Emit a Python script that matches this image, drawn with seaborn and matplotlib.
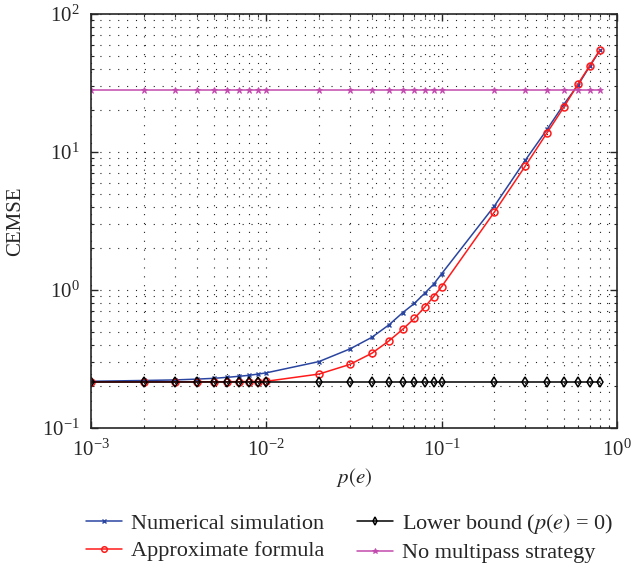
import numpy as np
import pandas as pd
import matplotlib
matplotlib.use("Agg")
import matplotlib.pyplot as plt
import seaborn as sns
from matplotlib.ticker import LogLocator, NullFormatter

# ---- data ----
p_e = [0.001, 0.002, 0.003, 0.004, 0.005, 0.006, 0.007, 0.008, 0.009, 0.01,
       0.02, 0.03, 0.04, 0.05, 0.06, 0.07, 0.08, 0.09, 0.1,
       0.2, 0.3, 0.4, 0.5, 0.6, 0.7, 0.8]
numerical = [0.218, 0.221, 0.223, 0.226, 0.229, 0.233, 0.237, 0.241, 0.246, 0.251,
             0.303, 0.374, 0.454, 0.558, 0.685, 0.80, 0.946, 1.10, 1.31,
             4.06, 8.7, 14.6, 22.3, 30.5, 41.8, 54.5]
approx = [0.2155, 0.2157, 0.2159, 0.216, 0.2162, 0.2164, 0.2166, 0.2168, 0.217, 0.218,
          0.246, 0.289, 0.348, 0.427, 0.519, 0.623, 0.75, 0.895, 1.057,
          3.67, 7.9, 13.8, 21.3, 31.1, 42.2, 54.8]
lower_bound = [0.2165] * len(p_e)
no_multipass = [28.1] * len(p_e)

labels = ["Numerical simulation", "Approximate formula",
          "Lower bound ($p(e)$ = 0)", "No multipass strategy"]

sns.set_style("ticks")
plt.rcParams["font.family"] = ["Liberation Serif", "DejaVu Serif"]
plt.rcParams["mathtext.fontset"] = "stix"

fig = plt.figure(figsize=(6.34, 5.69), dpi=100)
ax = fig.add_axes([0.1435, 0.2478, 0.8295, 0.7276])

blue, red, mag = "#2a45a0", "#ff1a1a", "#c24aae"
sns.lineplot(x=p_e, y=numerical, ax=ax, color=blue, lw=1.1, marker="x",
             markersize=3.5, markeredgecolor=blue, markeredgewidth=1.0,
             label=labels[0])
sns.lineplot(x=p_e, y=approx, ax=ax, color=red, lw=1.1, marker="o",
             markersize=5, markerfacecolor="none", markeredgecolor=red,
             markeredgewidth=1.1, label=labels[1])
sns.lineplot(x=p_e, y=lower_bound, ax=ax, color="black", lw=1.1, marker="d",
             markersize=5, markerfacecolor="none", markeredgecolor="black",
             markeredgewidth=1.1, label=labels[2])
sns.lineplot(x=p_e, y=no_multipass, ax=ax, color=mag, lw=1.1, marker="*",
             markersize=5, markerfacecolor=mag, markeredgecolor=mag,
             markeredgewidth=0.6, label=labels[3])

ax.set_xscale("log")
ax.set_yscale("log")
ax.set_xlim(1e-3, 1)
ax.set_ylim(0.1, 100)

ax.xaxis.set_major_locator(LogLocator(base=10, numticks=10))
ax.yaxis.set_major_locator(LogLocator(base=10, numticks=10))
ax.xaxis.set_minor_locator(LogLocator(base=10, subs=np.arange(2, 10), numticks=20))
ax.yaxis.set_minor_locator(LogLocator(base=10, subs=np.arange(2, 10), numticks=20))
ax.xaxis.set_minor_formatter(NullFormatter())
ax.yaxis.set_minor_formatter(NullFormatter())

ax.grid(True, which="both", color="#222222", linestyle=(0, (1, 7)), linewidth=0.8)
ax.tick_params(which="both", direction="in", top=True, right=True, labelsize=15, pad=8)
ax.tick_params(which="major", length=5, width=1)
ax.tick_params(which="minor", length=2.5, width=0.8)
for s in ax.spines.values():
    s.set_linewidth(1.2)
    s.set_visible(True)

ax.set_xlabel("$p(e)$", fontsize=15, labelpad=4)
ax.set_ylabel("CEMSE", fontsize=15, labelpad=12)

ax.legend(loc="upper center", bbox_to_anchor=(0.492, -0.155), ncol=2, frameon=False,
          fontsize=16, handlelength=1.6, columnspacing=1.5, labelspacing=0.3,
          handletextpad=0.4, markerscale=0.8)

fig.savefig("out.png", dpi=100)
